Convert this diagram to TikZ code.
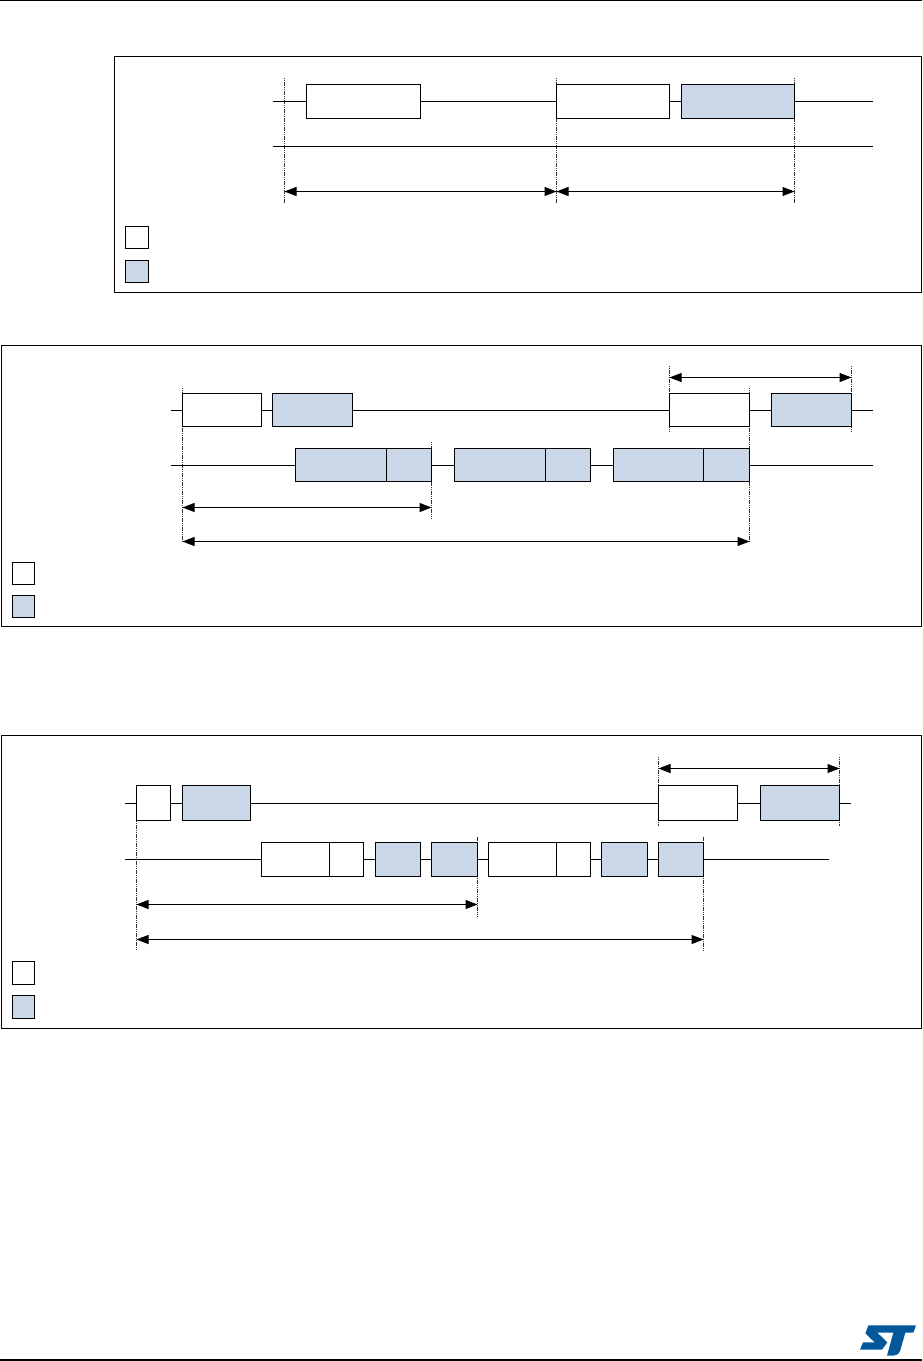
\documentclass[tikz,border=0pt]{standalone}
\usetikzlibrary{arrows.meta}
\definecolor{panelblue}{HTML}{CAD7E7}
\definecolor{stblue}{HTML}{03579B}
\tikzset{
  frameline/.style={draw=black,line width=0.024cm},
  wirebox/.style={draw=black,fill=white,line width=0.022cm,inner sep=0pt,outer sep=0pt},
  bluebox/.style={wirebox,fill=panelblue},
  wire/.style={draw=black,line width=0.02cm},
  guide/.style={draw=black!80,line width=0.018cm,dash pattern=on 0.024cm off 0.012cm},
  dimline/.style={draw=black,line width=0.02cm,{Triangle[length=0.24cm,width=0.18cm]}-{Triangle[length=0.24cm,width=0.18cm]}}
}
% name, style, x1, y1, x2, y2
\newcommand{\bx}[6]{\node[#2,minimum width={(#5-#3)*0.02cm},minimum height={(#6-#4)*0.02cm}] (#1) at ({(#3+#5)/2},{(#4+#6)/2}) {};}
% name, x, y1, y2 : vertical guide with named ends
\newcommand{\gd}[4]{\coordinate (#1t) at (#2,#3); \coordinate (#1b) at (#2,#4); \draw[guide] (#1t) -- (#1b);}
% name of arrow, x1, x2, y
\newcommand{\dm}[4]{\coordinate (#1l) at (#2,#4); \coordinate (#1r) at (#3,#4); \draw[dimline] (#1l) -- (#1r);}
\begin{document}
\begin{tikzpicture}[x=0.02cm,y=-0.02cm]
\useasboundingbox (0,0) rectangle (922,1361);
% page rules
\coordinate (pgtl) at (0,0.6); \coordinate (pgtr) at (922,0.6);
\coordinate (pgbl) at (0,1360); \coordinate (pgbr) at (922,1360);
\draw[wire,line width=0.03cm] (pgtl) -- (pgtr);
\draw[wire,line width=0.03cm] (pgbl) -- (pgbr);

% ---------- panel 1 ----------
\bx{fA}{frameline}{114.5}{56.5}{921.5}{292.5}
\gd{gA1}{284.5}{78}{203}
\gd{gA2}{556.5}{78}{203}
\gd{gA3}{794.5}{78}{203}
\bx{A1}{wirebox}{306.5}{84.5}{420.5}{118.5}
\bx{A2}{wirebox}{556.5}{84.5}{669.5}{118.5}
\bx{A3}{bluebox}{681.5}{84.5}{794.5}{118.5}
\coordinate (Al) at (272.5,101.5); \coordinate (Ar) at (873,101.5);
\draw[wire] (Al) -- (A1.west) (A1.east) -- (A2.west) (A2.east) -- (A3.west) (A3.east) -- (Ar);
\coordinate (Bl) at (272.5,146.5); \coordinate (Br) at (873,146.5);
\draw[wire] (Bl) -- (Br);
\dm{dA1}{284.5}{556.5}{191.5}
\dm{dA2}{556.5}{794.5}{191.5}
\bx{LA1}{wirebox}{125.5}{226.5}{148.5}{248.5}
\bx{LA2}{bluebox}{125.5}{260.5}{148.5}{282.5}

% ---------- panel 2 ----------
\bx{fB}{frameline}{1.5}{345.5}{921.5}{626.5}
\gd{gB1}{182.5}{388}{541}
\gd{gB2}{431.5}{442}{519}
\gd{gB3}{749.5}{388}{541}
\gd{gB4}{669.5}{366}{432}
\gd{gB5}{851.5}{366}{432}
\bx{C1}{wirebox}{182.5}{393.5}{261.5}{426.5}
\bx{C2}{bluebox}{272.5}{393.5}{352.5}{426.5}
\bx{C3}{wirebox}{669.5}{393.5}{749.5}{426.5}
\bx{C4}{bluebox}{771.5}{393.5}{851.5}{426.5}
\coordinate (Cl) at (170.5,410); \coordinate (Cr) at (873,410);
\draw[wire] (Cl) -- (C1.west) (C1.east) -- (C2.west) (C2.east) -- (C3.west) (C3.east) -- (C4.west) (C4.east) -- (Cr);
\bx{D1}{bluebox}{295.5}{448.5}{386.5}{481.5}
\bx{D2}{bluebox}{386.5}{448.5}{431.5}{481.5}
\bx{D3}{bluebox}{454.5}{448.5}{545.5}{481.5}
\bx{D4}{bluebox}{545.5}{448.5}{590.5}{481.5}
\bx{D5}{bluebox}{613.5}{448.5}{703.5}{481.5}
\bx{D6}{bluebox}{703.5}{448.5}{749.5}{481.5}
\coordinate (Dl) at (170.5,465); \coordinate (Dr) at (873,465);
\draw[wire] (Dl) -- (D1.west) (D2.east) -- (D3.west) (D4.east) -- (D5.west) (D6.east) -- (Dr);
\dm{dB1}{669.5}{851.5}{377.5}
\dm{dB2}{182.5}{431.5}{507.5}
\dm{dB3}{182.5}{749.5}{541.5}
\bx{LB1}{wirebox}{12.5}{562.5}{34.5}{584.5}
\bx{LB2}{bluebox}{12.5}{595.5}{34.5}{617.5}

% ---------- panel 3 ----------
\bx{fC}{frameline}{1.5}{735.5}{921.5}{1028.5}
\gd{gC1}{136.5}{803}{950}
\gd{gC2}{477.5}{836.5}{916}
\gd{gC3}{703.5}{836.5}{950}
\gd{gC4}{658.5}{757}{826}
\gd{gC5}{839.5}{757}{826}
\bx{E1}{wirebox}{136.5}{785.5}{170.5}{820.5}
\bx{E2}{bluebox}{182.5}{785.5}{250.5}{820.5}
\bx{E3}{wirebox}{658.5}{785.5}{737.5}{820.5}
\bx{E4}{bluebox}{760.5}{785.5}{839.5}{820.5}
\coordinate (El) at (125,803); \coordinate (Er) at (850.5,803);
\draw[wire] (El) -- (E1.west) (E1.east) -- (E2.west) (E2.east) -- (E3.west) (E3.east) -- (E4.west) (E4.east) -- (Er);
\bx{F1}{wirebox}{261.5}{842.5}{329.5}{876.5}
\bx{F2}{wirebox}{329.5}{842.5}{363.5}{876.5}
\bx{F3}{bluebox}{375.5}{842.5}{420.5}{876.5}
\bx{F4}{bluebox}{431.5}{842.5}{477.5}{876.5}
\bx{F5}{wirebox}{488.5}{842.5}{556.5}{876.5}
\bx{F6}{wirebox}{556.5}{842.5}{590.5}{876.5}
\bx{F7}{bluebox}{601.5}{842.5}{647.5}{876.5}
\bx{F8}{bluebox}{658.5}{842.5}{703.5}{876.5}
\coordinate (Fl) at (125,859.5); \coordinate (Fr) at (828.5,859.5);
\draw[wire] (Fl) -- (F1.west) (F2.east) -- (F3.west) (F3.east) -- (F4.west) (F4.east) -- (F5.west) (F6.east) -- (F7.west) (F7.east) -- (F8.west) (F8.east) -- (Fr);
\dm{dC1}{658.5}{839.5}{768.5}
\dm{dC2}{136.5}{477.5}{904.5}
\dm{dC3}{136.5}{703.5}{939.5}
\bx{LC1}{wirebox}{12.5}{961.5}{34.5}{984.5}
\bx{LC2}{bluebox}{12.5}{995.5}{34.5}{1018.5}

% ---------- logo ----------
\begin{scope}[shift={(760,1290)},x=0.02cm/3,y=-0.02cm/3]
\fill[stblue] (325,106) -- (468,106) -- (460,128) -- (436,128) -- (421,180) .. controls (417,192) and (410,197) .. (400,197) -- (381,197) -- (400,128) -- (352,128) -- (382,157) -- (366,179) -- (300,179) -- (309,157) -- (344,157) -- (316,130) -- cycle;
\end{scope}
\end{tikzpicture}
\end{document}
